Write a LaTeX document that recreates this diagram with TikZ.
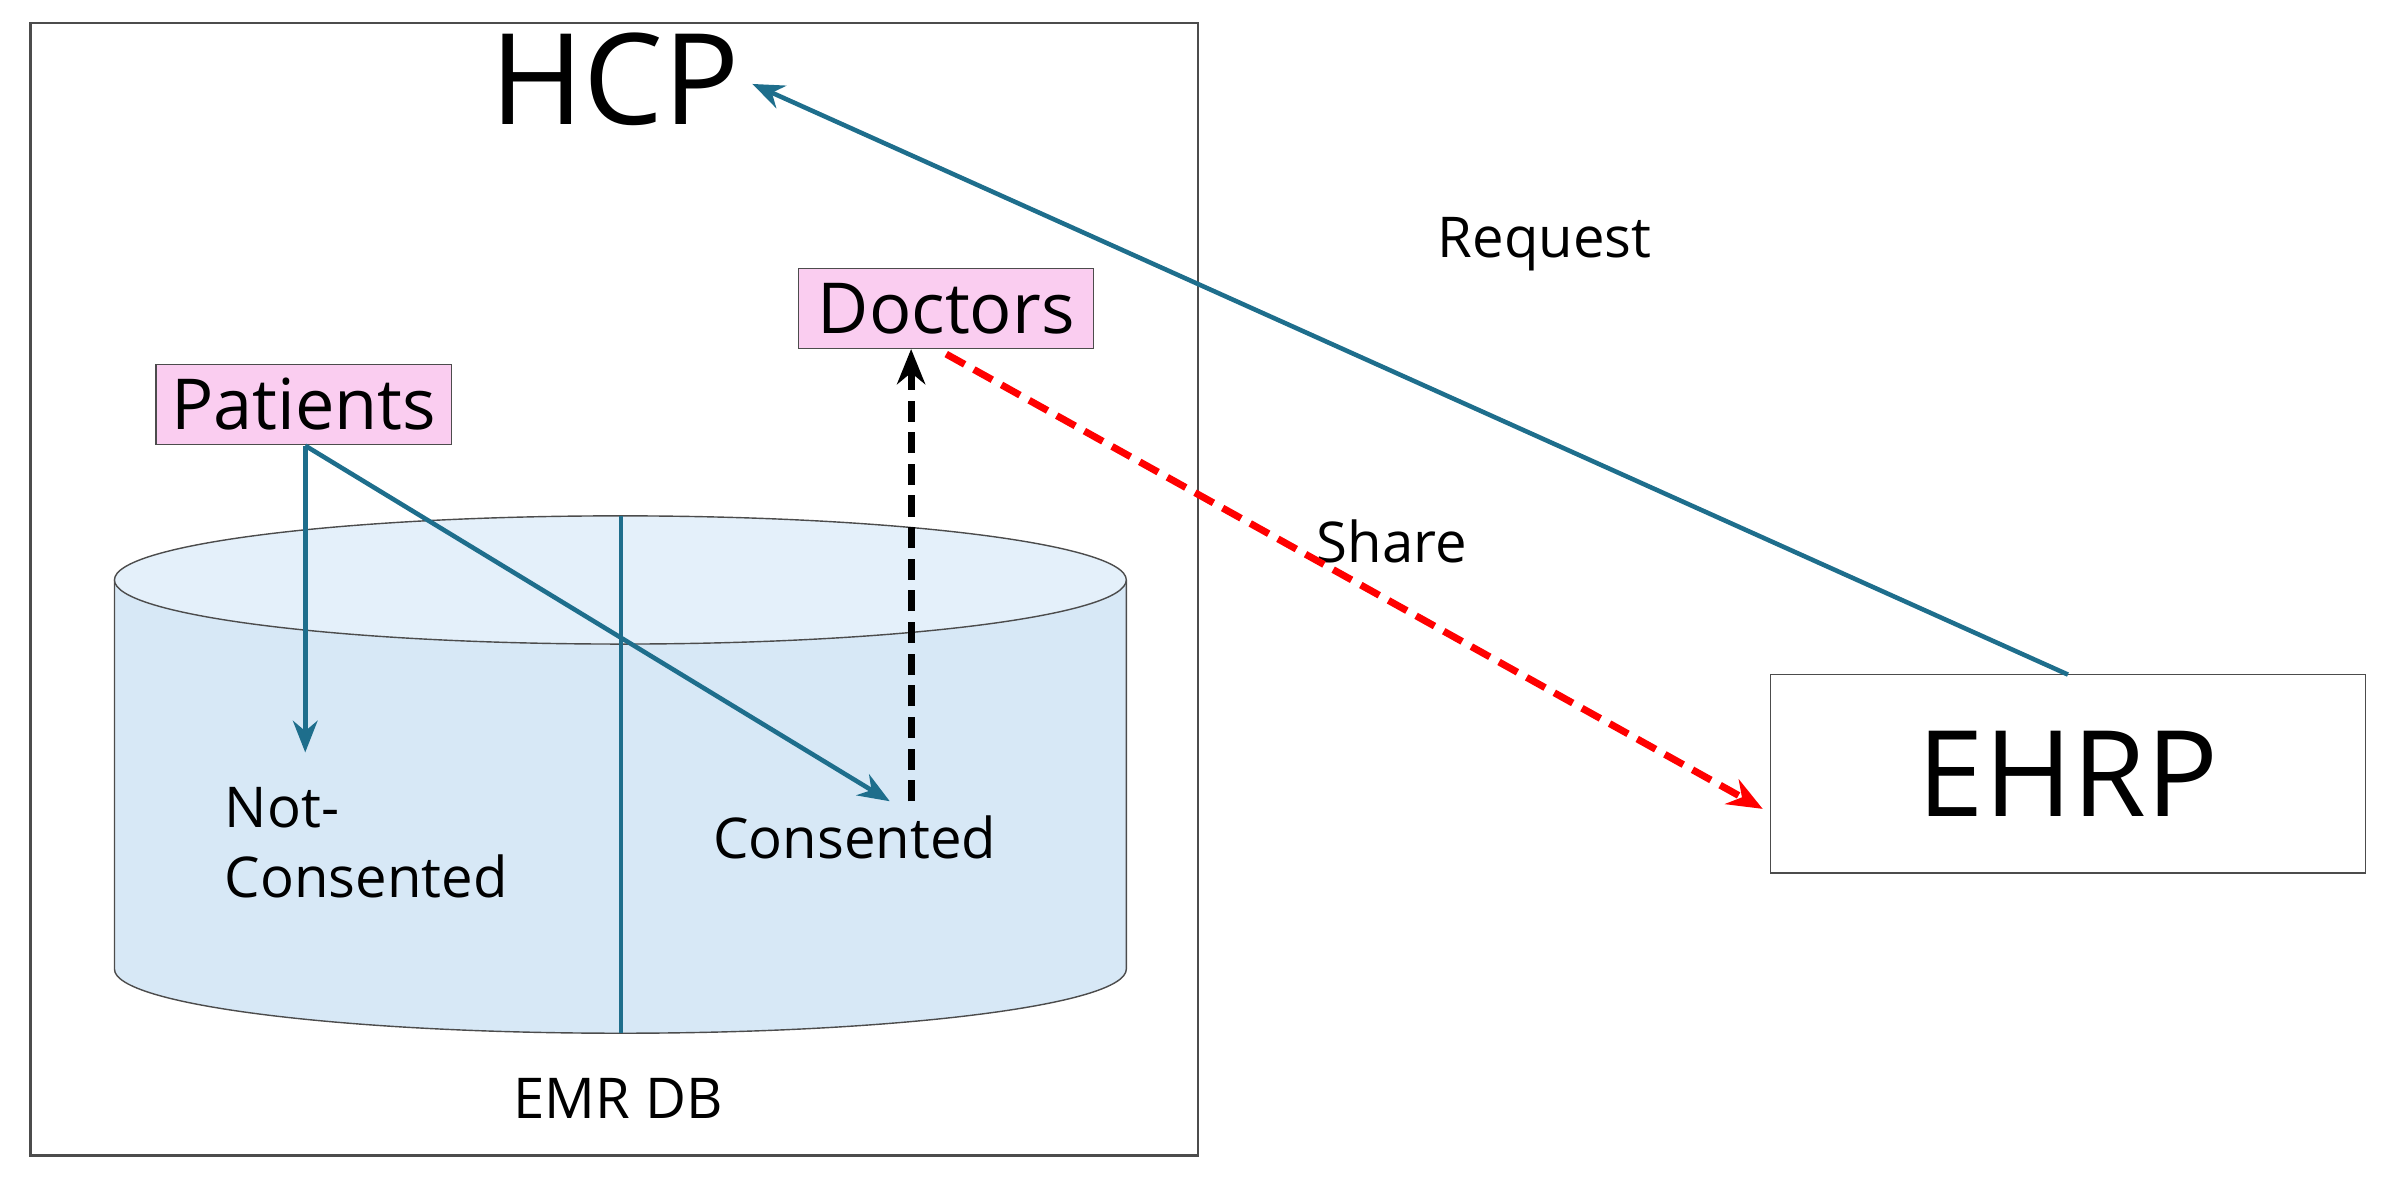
\documentclass[tikz,border=0pt]{standalone}
\usepackage{fontspec}
\setmainfont{Open Sans}
\usetikzlibrary{arrows.meta}
\definecolor{linkblue}{RGB}{30,110,140}
\definecolor{dbfill}{RGB}{215,232,246}
\definecolor{dbtop}{RGB}{228,240,250}
\definecolor{tagpink}{RGB}{250,205,240}
\tikzset{
    tag/.style={draw=black!70, fill=tagpink, minimum width=2.95cm, minimum height=0.8cm, font=\fontsize{20}{24}\selectfont},
    link/.style={draw=linkblue, line width=1.3pt, -{Stealth[length=9pt,width=7pt]}},
    label/.style={font=\fontsize{16}{20}\selectfont, align=left},
    share/.style={dash pattern=on 6pt off 3pt, line width=2pt, -{Stealth[length=10pt,width=8pt]}}
}
\begin{document}
\begin{tikzpicture}[x=0.01526cm, y=-0.01526cm]
    \useasboundingbox (0,0) rectangle (1568,780);
    \draw[black!70, line width=0.8pt] (20,15) rectangle (785,757);
    % EMR database
    \draw[black!70, fill=dbfill] (75,380) -- (75,635) arc (180:0:331.5 and 42) -- (738,380);
    \draw[black!70, fill=dbtop] (406.5,380) ellipse (331.5 and 42);
    \draw[linkblue, line width=1.3pt] (407,338) -- (407,677);
    \node (hcp) at (403,52) {\fontsize{36}{40}\selectfont HCP};
    \node (req) at (1012,160) [label] {Request};
    \node[tag] (doctors) at (620,202) {Doctors};
    \node[tag] (patients) at (199,265) {Patients};
    \node[draw=black!70, minimum width=5.95cm, minimum height=1.98cm, font=\fontsize{34}{38}\selectfont] (ehrp) at (1355,507) {EHRP};
    \node[label] (notc) at (240,552) {Not-\\Consented};
    \node[label] (cons) at (560,549) {Consented};
    \node[label] (share) at (912,355) {Share};
    \node[label] (emr) at (405,720) {EMR DB};
    \coordinate (p) at (200,292);
    \coordinate (nc) at (200,493);
    \coordinate (c) at (583,525);
    \coordinate (cd) at (597,525);
    \coordinate (hcpend) at (493,55);
    \coordinate (ehrptop) at (1355,442);
    \coordinate (docs) at (620,232);
    \coordinate (ehrpw) at (1155,530);
    \draw[link] (p) -- (nc);
    \draw[link] (p) -- (c);
    \draw[link] (ehrptop) -- (hcpend);
    \draw[share, black] (cd) -- (doctors.south -| cd);
    \draw[share, red] (docs) -- (ehrpw);
\end{tikzpicture}
\end{document}
